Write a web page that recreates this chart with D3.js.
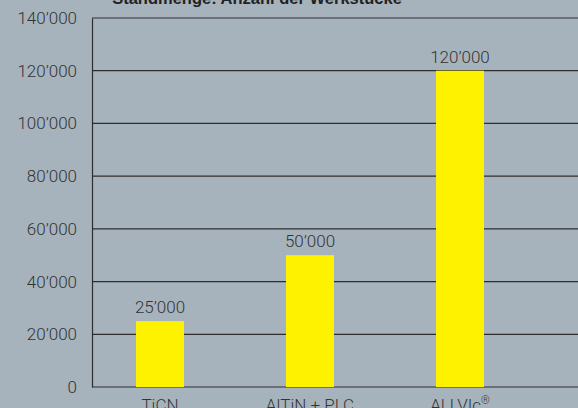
<!DOCTYPE html>
<html>
<head>
<meta charset="utf-8">
<script src="https://cdn.jsdelivr.net/npm/d3@7"></script>
<style>
  html, body { margin: 0; padding: 0; background: #a7b3bc; }
  svg { display: block; font-family: Roboto, "Liberation Sans", Arial, sans-serif; }
</style>
</head>
<body>
<div id="chart"></div>
<script>
// chart data
const categories = ['TiCN', 'AlTiN + PLC', 'ALLVIc'];
const values = [25000, 50000, 120000];
const yTicks = [0, 20000, 40000, 60000, 80000, 100000, 120000, 140000];
const title = 'Standmenge: Anzahl der Werkstücke';

// dimensions
const width = 578;
const height = 408;
const margin = { left: 92, right: 0, top: 18, bottom: 21 };

const locale = d3.formatLocale({ decimal: '.', thousands: '\u2019', grouping: [3], currency: ['', ''] });
const fmt = locale.format(',d');

const svg = d3.select('#chart')
              .append('svg')
              .attr('width', width)
              .attr('height', height);

// scales
const xScale = d3.scaleBand()
                 .domain(categories)
                 .range([85, 535])
                 .paddingInner(0.68)
                 .paddingOuter(0.34);

const yScale = d3.scaleLinear()
                 .domain([0, 140000])
                 .range([height - margin.bottom, margin.top]);

// gridlines
svg.append('g')
   .selectAll('line')
   .data(yTicks)
   .enter()
   .append('line')
   .attr('x1', margin.left)
   .attr('x2', width)
   .attr('y1', d => yScale(d))
   .attr('y2', d => yScale(d))
   .attr('stroke', '#2e2e2e')
   .attr('stroke-width', 1.2);

// y axis
const yAxis = svg.append('g')
                 .attr('transform', `translate(${margin.left},0)`)
                 .call(d3.axisLeft(yScale).tickValues(yTicks).tickFormat(fmt).tickSize(0).tickPadding(15));
yAxis.select('.domain').attr('stroke', '#2e2e2e').attr('stroke-width', 1.2);
yAxis.selectAll('text')
     .attr('fill', '#333')
     .style('font-size', '17px')
     .style('font-weight', 300)
     .style('font-family', 'Roboto, "Liberation Sans", sans-serif');

// bars
svg.selectAll('rect.bar')
   .data(values)
   .enter()
   .append('rect')
   .attr('class', 'bar')
   .attr('x', (d, i) => xScale(categories[i]))
   .attr('width', xScale.bandwidth())
   .attr('y', d => yScale(d))
   .attr('height', d => yScale(0) - yScale(d))
   .attr('fill', '#fff200');

// value labels
svg.selectAll('text.val')
   .data(values)
   .enter()
   .append('text')
   .attr('class', 'val')
   .attr('x', (d, i) => xScale(categories[i]) + xScale.bandwidth() / 2)
   .attr('y', d => yScale(d) - 8)
   .attr('text-anchor', 'middle')
   .attr('fill', '#333')
   .style('font-size', '17px')
   .style('font-weight', 300)
   .text(d => fmt(d));

// category labels
const xl = svg.selectAll('text.cat')
   .data(categories)
   .enter()
   .append('text')
   .attr('class', 'cat')
   .attr('x', d => xScale(d) + xScale.bandwidth() / 2)
   .attr('y', height + 3)
   .attr('text-anchor', 'middle')
   .attr('fill', '#333')
   .style('font-size', '17px')
   .style('font-weight', 300)
   .text(d => d);
xl.filter(d => d === 'ALLVIc')
  .append('tspan')
  .attr('dy', -7)
  .style('font-size', '11px')
  .text('®');

// title
svg.append('text')
   .attr('x', 257)
   .attr('y', 4)
   .attr('text-anchor', 'middle')
   .attr('fill', '#222')
   .style('font-size', '16.5px')
   .style('font-weight', 'bold')
   .style('font-family', '"Liberation Sans", Arial, sans-serif')
   .text(title);
</script>
</body>
</html>
